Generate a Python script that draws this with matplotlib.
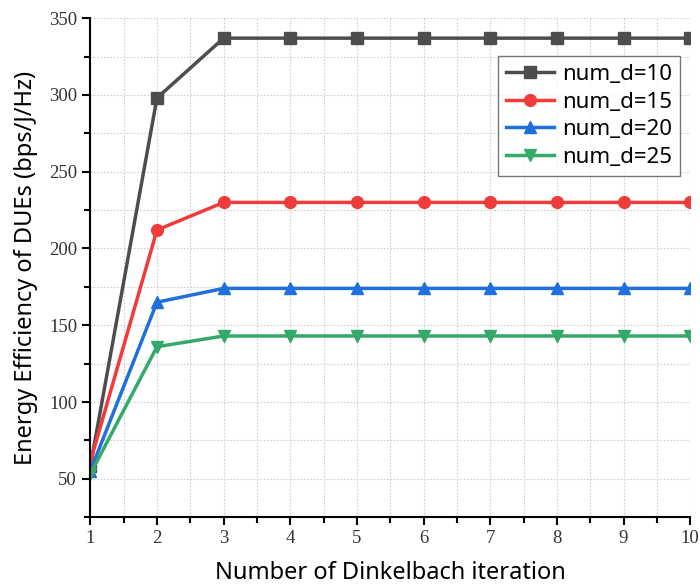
import matplotlib
matplotlib.use("Agg")
import matplotlib.pyplot as plt
from matplotlib.ticker import MultipleLocator

iterations = [1, 2, 3, 4, 5, 6, 7, 8, 9, 10]
ee_d10 = [58, 298, 337, 337, 337, 337, 337, 337, 337, 337]
ee_d15 = [61, 212, 230, 230, 230, 230, 230, 230, 230, 230]
ee_d20 = [55, 165, 174, 174, 174, 174, 174, 174, 174, 174]
ee_d25 = [53, 136, 143, 143, 143, 143, 143, 143, 143, 143]
labels = ["num_d=10", "num_d=15", "num_d=20", "num_d=25"]
colors = ["#4d4d4d", "#f03b3b", "#1f6fdc", "#35a96a"]
markers = ["s", "o", "^", "v"]

fig = plt.figure(figsize=(7.0, 5.87), dpi=100)
ax = fig.add_axes([0.129, 0.119, 0.857, 0.85])

for ys, lab, c, m in zip([ee_d10, ee_d15, ee_d20, ee_d25], labels, colors, markers):
    ax.plot(iterations, ys, color=c, marker=m, markersize=8.5, linewidth=2.5, label=lab)

ax.set_xlim(1, 10)
ax.set_ylim(25, 350)
ax.xaxis.set_major_locator(MultipleLocator(1))
ax.xaxis.set_minor_locator(MultipleLocator(0.5))
ax.yaxis.set_major_locator(MultipleLocator(50))
ax.yaxis.set_minor_locator(MultipleLocator(25))
ax.grid(True, which="both", color="#cfcfcf", linestyle=(0, (1.5, 1.5)), linewidth=0.8)
ax.set_axisbelow(True)
for s in ["top", "right"]:
    ax.spines[s].set_visible(False)
for s in ["left", "bottom"]:
    ax.spines[s].set_linewidth(1.5)
ax.tick_params(which="major", direction="out", length=6, width=1.5)
ax.tick_params(which="minor", direction="out", length=4, width=1.5)
for t in ax.get_xticklabels() + ax.get_yticklabels():
    t.set_fontfamily("Liberation Serif")
    t.set_fontsize(13.5)
    t.set_color("#333333")

ax.set_xlabel("Number of Dinkelbach iteration", fontsize=17, family="Noto Sans", labelpad=10)
ax.set_ylabel("Energy Efficiency of DUEs (bps/J/Hz)", fontsize=17, family="Noto Sans", labelpad=8)

leg = ax.legend(loc="upper right", bbox_to_anchor=(0.983, 0.924), borderaxespad=0,
                prop={"family": "Noto Sans", "size": 16},
                frameon=True, fancybox=False, edgecolor="#555555", handlelength=2.2,
                borderpad=0.35, labelspacing=0.3, handletextpad=0.35)
leg.get_frame().set_linewidth(1.0)

fig.savefig("out.png", dpi=100)
